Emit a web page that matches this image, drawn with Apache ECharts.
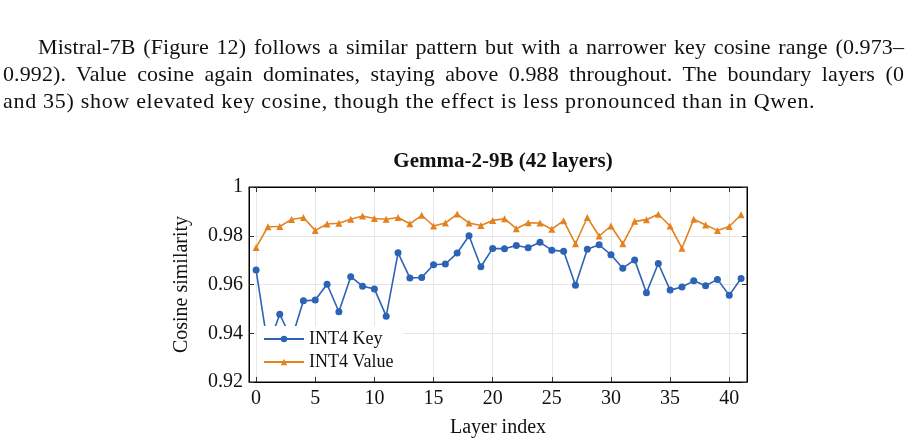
<!DOCTYPE html>
<html lang="en">
<head>
<meta charset="UTF-8">
<title>Gemma-2-9B cosine similarity</title>
<script src="https://cdn.jsdelivr.net/npm/echarts@6/dist/echarts.min.js"></script>
<style>
  html, body { margin: 0; padding: 0; background: #fff; }
  #wrap { position: relative; width: 918px; height: 442px; overflow: hidden; }
  #para { position: absolute; left: 3px; top: 33px; width: 901px;
          font-family: "Liberation Serif", serif; font-size: 22px; line-height: 27px;
          letter-spacing: 0.7px; color: #111; }
  #para div { white-space: nowrap; }
  #para .j { text-align: justify; text-align-last: justify; white-space: normal; letter-spacing: 0.1px; }
  #main { position: absolute; left: 0; top: 0; width: 918px; height: 442px; }
</style>
</head>
<body>
<div id="wrap">
  <div id="main"></div>
  <div id="para">
    <div class="j" style="padding-left:35px">Mistral-7B (Figure 12) follows a similar pattern but with a narrower key cosine range (0.973–</div>
    <div class="j">0.992). Value cosine again dominates, staying above 0.988 throughout. The boundary layers (0</div>
    <div>and 35) show elevated key cosine, though the effect is less pronounced than in Qwen.</div>
  </div>
</div>
<script type="text/javascript">
// 数据：层号 + 两条余弦相似度
var layers = [];
for (var i = 0; i < 42; i++) layers.push(i);

var keyCos = [0.9659, 0.9345, 0.9478, 0.9375, 0.9533, 0.9536, 0.9601, 0.9488, 0.9632, 0.9593,
              0.9582, 0.9470, 0.9730, 0.9627, 0.9629, 0.9681, 0.9684, 0.9729, 0.9800, 0.9673,
              0.9748, 0.9747, 0.9760, 0.9751, 0.9773, 0.9741, 0.9736, 0.9597, 0.9745, 0.9763,
              0.9722, 0.9667, 0.9701, 0.9566, 0.9686, 0.9577, 0.9590, 0.9615, 0.9595, 0.9621,
              0.9556, 0.9625];
var valueCos = [0.9752, 0.9837, 0.9838, 0.9867, 0.9875, 0.9822, 0.9848, 0.9851, 0.9868, 0.9881,
                0.9871, 0.9868, 0.9875, 0.9849, 0.9884, 0.9840, 0.9852, 0.9889, 0.9852, 0.9842,
                0.9863, 0.9870, 0.9829, 0.9853, 0.9852, 0.9827, 0.9862, 0.9767, 0.9875, 0.9799,
                0.9840, 0.9767, 0.9859, 0.9866, 0.9888, 0.9840, 0.9749, 0.9868, 0.9844, 0.9822,
                0.9838, 0.9886];
var xTicks = [0, 5, 10, 15, 20, 25, 30, 35, 40];

var FONT = '"Liberation Serif", serif';
var blue = '#2c63b5';
var orange = '#e3821f';

function zip(xs, ys) {
    return xs.map(function (x, k) { return [x, ys[k]]; });
}

var myChart = echarts.init(document.getElementById('main'));

var xBase = {
    type: 'value', min: -0.6, max: 41.5,
    axisLine: { onZero: false, lineStyle: { color: '#000' } },
    axisTick: { inside: true, length: 5, customValues: xTicks, lineStyle: { color: '#333' } },
    axisLabel: { customValues: xTicks, color: '#111', fontFamily: FONT, fontSize: 20, margin: 7 },
    splitLine: { show: true, lineStyle: { color: '#e6e6e6' } }
};
var yBase = {
    type: 'value', min: 0.92, max: 1, interval: 0.02,
    axisLine: { show: true, onZero: false, lineStyle: { color: '#000' } },
    axisTick: { show: true, inside: true, length: 5, lineStyle: { color: '#333' } },
    axisLabel: {
        color: '#111', fontFamily: FONT, fontSize: 20, margin: 6,
        formatter: function (v) { return Math.abs(v - 1) < 1e-9 ? '1' : v.toFixed(2); }
    },
    splitLine: { show: true, lineStyle: { color: '#e6e6e6' } }
};

var option = {
    animation: false,
    title: {
        text: 'Gemma-2-9B (42 layers)',
        left: 498, top: 146, textAlign: 'center',
        textStyle: { fontFamily: FONT, fontSize: 21, fontWeight: 'bold', color: '#111' }
    },
    grid: { left: 249, right: 171, top: 187, bottom: 60, show: true, borderColor: '#000', borderWidth: 1 },
    legend: {
        data: ['INT4 Key', 'INT4 Value'],
        orient: 'vertical', left: 257, top: 326,
        backgroundColor: '#fff', padding: [4, 10, 4, 6], itemGap: 5,
        itemWidth: 40, itemHeight: 8,
        textStyle: { fontFamily: FONT, fontSize: 18, color: '#111' }
    },
    xAxis: [
        Object.assign({}, xBase, {
            name: 'Layer index', nameLocation: 'middle', nameGap: 36,
            nameTextStyle: { fontFamily: FONT, fontSize: 20, color: '#111' }
        }),
        Object.assign({}, xBase, {
            position: 'top', axisLabel: { show: false, customValues: xTicks }, splitLine: { show: false }
        })
    ],
    yAxis: [
        Object.assign({}, yBase, {
            name: 'Cosine similarity', nameLocation: 'middle', nameGap: 57,
            nameTextStyle: { fontFamily: FONT, fontSize: 20, color: '#111' }
        }),
        Object.assign({}, yBase, {
            position: 'right', axisLabel: { show: false }, splitLine: { show: false }
        })
    ],
    series: [
        {
            name: 'INT4 Key', type: 'line', data: zip(layers, keyCos),
            symbol: 'circle', symbolSize: 7, clip: true,
            lineStyle: { color: blue, width: 1.6 }, itemStyle: { color: blue }
        },
        {
            name: 'INT4 Value', type: 'line', data: zip(layers, valueCos),
            symbol: 'triangle', symbolSize: 7, clip: true,
            lineStyle: { color: orange, width: 1.6 }, itemStyle: { color: orange }
        }
    ]
};

myChart.setOption(option);
</script>
</body>
</html>
